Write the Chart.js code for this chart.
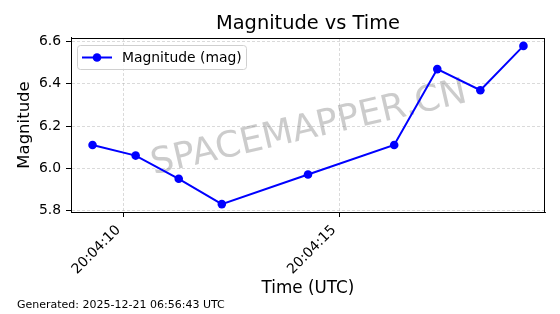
<!DOCTYPE html>
<html>
<head>
<meta charset="utf-8">
<script src="https://cdn.jsdelivr.net/npm/chart.js@4.4.1/dist/chart.umd.min.js"></script>
<style>
html,body{margin:0;padding:0;background:#fff;}
#wrap{width:560px;height:314px;position:relative;}
</style>
</head>
<body>
<div id="wrap"><canvas id="c" width="560" height="314"></canvas></div>
<script>
// Data
const timeLabels = ['20:04:09.28','20:04:10.28','20:04:11.28','20:04:12.28','20:04:14.28','20:04:16.28','20:04:17.28','20:04:18.28','20:04:19.28'];
const magnitudes = [6.11, 6.06, 5.95, 5.83, 5.97, 6.11, 6.47, 6.37, 6.58];
const xTickLabels = ['20:04:10', '20:04:15'];
const yTickLabels = ['5.8', '6.0', '6.2', '6.4', '6.6'];
const seriesName = 'Magnitude (mag)';
const chartTitle = 'Magnitude vs Time';
const xTitle = 'Time (UTC)';
const yTitle = 'Magnitude';
const footerText = 'Generated: 2025-12-21 06:56:43 UTC';
const watermarkText = 'SPACEMAPPER.CN';

function toSec(s){ const p = s.split(':'); return (+p[0])*3600 + (+p[1])*60 + parseFloat(p[2]); }
function fmt(sec){ const h=Math.floor(sec/3600), m=Math.floor((sec%3600)/60), s=Math.round(sec%60);
  const z=n=>String(n).padStart(2,'0'); return z(h)+':'+z(m)+':'+z(s); }

const xs = timeLabels.map(toSec);
const points = xs.map((x,i)=>({x:x, y:magnitudes[i]}));
const xMinD = Math.min(...xs), xMaxD = Math.max(...xs);
const xm = (xMaxD - xMinD) * 0.05;
const yMinD = Math.min(...magnitudes), yMaxD = Math.max(...magnitudes);
const ym = (yMaxD - yMinD) * 0.05;
const xTickVals = xTickLabels.map(toSec);
const yTickVals = yTickLabels.map(parseFloat);

const FONT = "'DejaVu Sans', sans-serif";

const decor = {
  id: 'decor',
  beforeDatasetsDraw(chart){
    const {ctx} = chart;
    ctx.save();
    ctx.translate(309, 129);
    ctx.rotate(-13*Math.PI/180);
    ctx.font = "36px " + FONT;
    ctx.fillStyle = 'rgba(128,128,128,0.4)';
    ctx.textAlign = 'center';
    ctx.textBaseline = 'middle';
    ctx.fillText(watermarkText, 0, 0);
    ctx.restore();
  },
  afterDraw(chart){
    const {ctx, chartArea:a} = chart;
    ctx.save();
    // frame
    ctx.strokeStyle = '#000';
    ctx.lineWidth = 1;
    ctx.strokeRect(Math.round(a.left)+0.5, Math.round(a.top)+0.5, Math.round(a.right-a.left)-1, Math.round(a.bottom-a.top));
    // legend
    const lx = 77.5, ly = 45.5, lw = 169, lh = 24, r = 3;
    ctx.beginPath();
    ctx.moveTo(lx+r, ly); ctx.lineTo(lx+lw-r, ly); ctx.quadraticCurveTo(lx+lw, ly, lx+lw, ly+r);
    ctx.lineTo(lx+lw, ly+lh-r); ctx.quadraticCurveTo(lx+lw, ly+lh, lx+lw-r, ly+lh);
    ctx.lineTo(lx+r, ly+lh); ctx.quadraticCurveTo(lx, ly+lh, lx, ly+lh-r);
    ctx.lineTo(lx, ly+r); ctx.quadraticCurveTo(lx, ly, lx+r, ly);
    ctx.closePath();
    ctx.fillStyle = 'rgba(255,255,255,0.8)';
    ctx.fill();
    ctx.strokeStyle = '#d0d0d0';
    ctx.lineWidth = 1;
    ctx.stroke();
    ctx.strokeStyle = '#0000ff';
    ctx.lineWidth = 2;
    ctx.beginPath(); ctx.moveTo(82, 57.5); ctx.lineTo(112, 57.5); ctx.stroke();
    ctx.fillStyle = '#0000ff';
    ctx.beginPath(); ctx.arc(97, 57.5, 4.3, 0, Math.PI*2); ctx.fill();
    ctx.fillStyle = '#000';
    ctx.font = "13.9px " + FONT;
    ctx.textAlign = 'left';
    ctx.textBaseline = 'middle';
    ctx.fillText(seriesName, 122, 58);
    // footer
    ctx.font = "11px " + FONT;
    ctx.textBaseline = 'middle';
    ctx.fillText(footerText, 17, 305);
    ctx.restore();
  }
};

new Chart(document.getElementById('c'), {
  type: 'line',
  data: {
    datasets: [{
      label: seriesName,
      data: points,
      borderColor: '#0000ff',
      backgroundColor: '#0000ff',
      borderWidth: 2,
      pointRadius: 4.3,
      pointHoverRadius: 4.3,
      pointBorderWidth: 0,
      tension: 0,
      fill: false
    }]
  },
  options: {
    responsive: false,
    animation: false,
    events: [],
    layout: { padding: { left: 0, right: 15, top: 0, bottom: 0 } },
    plugins: {
      legend: { display: false },
      tooltip: { enabled: false },
      title: {
        display: true,
        fullSize: false,
        text: chartTitle,
        color: '#000',
        font: { family: FONT, size: 19.4, weight: 'normal', lineHeight: 1.2 },
        padding: { top: 12.5, bottom: 2.2 }
      }
    },
    scales: {
      x: {
        type: 'linear',
        min: xMinD - xm,
        max: xMaxD + xm,
        afterBuildTicks(scale){ scale.ticks = xTickVals.map(v=>({value:v})); },
        afterFit(scale){ scale.height = 102; },
        ticks: {
          callback: (v)=>fmt(v),
          color: '#000',
          font: { family: FONT, size: 13.9 },
          minRotation: 45,
          maxRotation: 45,
          padding: 5,
          labelOffset: -5,
          autoSkip: false
        },
        grid: {
          color: 'rgba(176,176,176,0.6)',
          lineWidth: 0.8,
          drawTicks: true,
          tickLength: 5,
          tickColor: '#000',
          tickWidth: 1,
          tickBorderDash: []
        },
        border: { display: true, color: '#000', width: 1, dash: [3, 2] },
        title: {
          display: true,
          text: xTitle,
          color: '#000',
          font: { family: FONT, size: 16.8, lineHeight: 1.2 },
          padding: { top: 0, bottom: 15 }
        }
      },
      y: {
        type: 'linear',
        min: yMinD - ym,
        max: yMaxD + ym,
        afterBuildTicks(scale){ scale.ticks = yTickVals.map(v=>({value:v})); },
        afterFit(scale){ scale.width = 71; },
        ticks: {
          callback: (v)=>v.toFixed(1),
          color: '#000',
          font: { family: FONT, size: 13.9 },
          padding: 5,
          autoSkip: false
        },
        grid: {
          color: 'rgba(176,176,176,0.6)',
          lineWidth: 0.8,
          drawTicks: true,
          tickLength: 5,
          tickColor: '#000',
          tickWidth: 1,
          tickBorderDash: []
        },
        border: { display: true, color: '#000', width: 1, dash: [3, 2] },
        title: {
          display: true,
          text: yTitle,
          color: '#000',
          font: { family: FONT, size: 16.5, lineHeight: 1.2 },
          padding: { top: 15, bottom: 0 }
        }
      }
    }
  },
  plugins: [decor]
});
</script>
</body>
</html>
